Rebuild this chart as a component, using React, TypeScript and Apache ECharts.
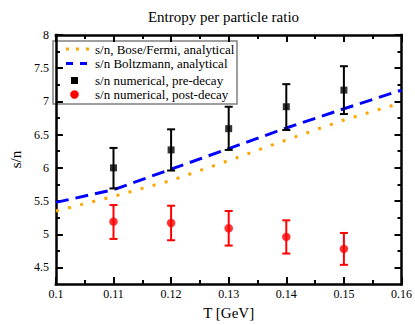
import React, { useEffect, useRef } from 'react';
import * as echarts from 'echarts';

// Analytical curves
const temps = [0.1, 0.11, 0.12, 0.13, 0.14, 0.15, 0.16];
const boseFermi = [5.35, 5.57, 5.81, 6.11, 6.42, 6.72, 6.98];
const boltzmann = [5.48, 5.67, 5.98, 6.29, 6.6, 6.89, 7.17];

// Numerical points
const numT = [0.11, 0.12, 0.13, 0.14, 0.15];
const preDecay = [6.0, 6.27, 6.59, 6.92, 7.17];
const preLow = [5.69, 5.96, 6.27, 6.57, 6.81];
const preHigh = [6.3, 6.58, 6.92, 7.26, 7.53];
const postDecay = [5.19, 5.17, 5.09, 4.96, 4.78];
const postLow = [4.93, 4.91, 4.83, 4.71, 4.54];
const postHigh = [5.44, 5.43, 5.35, 5.21, 5.02];

// Ticks
const yMajor = [4.5, 5, 5.5, 6, 6.5, 7, 7.5, 8];
const yMinor = [4.75, 5.25, 5.75, 6.25, 6.75, 7.25, 7.75];

const legendLabels = [
  's/n, Bose/Fermi, analytical',
  's/n Boltzmann, analytical',
  's/n numerical, pre-decay',
  's/n numerical, post-decay',
];

const FONT = 'Liberation Serif';

function errorBarSeries(color: string, lo: number[], hi: number[]) {
  return {
    type: 'custom',
    xAxisIndex: 0,
    yAxisIndex: 0,
    z: 3,
    data: numT.map((t, i) => [t, lo[i], hi[i]]),
    encode: { x: 0, y: [1, 2] },
    renderItem: (params: any, api: any) => {
      const x = api.value(0);
      const p1 = api.coord([x, api.value(1)]);
      const p2 = api.coord([x, api.value(2)]);
      const hw = 4;
      const style = { stroke: color, lineWidth: 2, fill: 'none' };
      return {
        type: 'group',
        children: [
          { type: 'line', shape: { x1: p1[0], y1: p1[1], x2: p2[0], y2: p2[1] }, style },
          { type: 'line', shape: { x1: p1[0] - hw, y1: p1[1], x2: p1[0] + hw, y2: p1[1] }, style },
          { type: 'line', shape: { x1: p2[0] - hw, y1: p2[1], x2: p2[0] + hw, y2: p2[1] }, style },
        ],
      };
    },
  };
}

export default function App() {
  const ref = useRef<HTMLDivElement>(null);
  useEffect(() => {
    if (!ref.current) return;
    const chart = echarts.init(ref.current, null, { renderer: 'svg' });
    const axisLineStyle = { color: '#000', width: 2.5, cap: 'square' };
    const majorTick = { show: true, inside: true, length: 7, lineStyle: { color: '#000', width: 2 } };
    const xCommon = {
      type: 'value',
      min: 0.1,
      max: 0.16,
      interval: 0.01,
      gridIndex: 0,
      splitLine: { show: false },
      axisLine: { show: true, onZero: false, lineStyle: axisLineStyle },
      axisTick: majorTick,
      minorTick: { show: true, splitNumber: 2, length: 4, lineStyle: { color: '#000', width: 2 } },
      minorSplitLine: { show: false },
    };
    const yCommon = {
      type: 'value',
      min: 4.25,
      max: 8,
      interval: 0.25,
      gridIndex: 0,
      splitLine: { show: false },
    };
    const ly = [49, 63.5, 80.5, 94.5];
    const option: any = {
      animation: false,
      textStyle: { fontFamily: FONT },
      title: {
        text: 'Entropy per particle ratio',
        left: 218.5,
        textAlign: 'center',
        top: 4,
        textStyle: { fontFamily: FONT, fontSize: 15, fontWeight: 'normal', color: '#000' },
      },
      grid: { left: 34, right: 12, top: 35, bottom: 31 },
      xAxis: [
        {
          ...xCommon,
          position: 'bottom',
          name: 'T [GeV]',
          nameLocation: 'middle',
          nameGap: 14,
          nameTextStyle: { fontFamily: FONT, fontSize: 15, color: '#000' },
          axisLabel: {
            show: true,
            margin: 4,
            fontFamily: FONT,
            fontSize: 12,
            color: '#000',
            showMinLabel: true,
            showMaxLabel: true,
            formatter: (v: number) => String(+v.toFixed(2)),
          },
        },
        {
          ...xCommon,
          position: 'top',
          axisLabel: { show: false },
        },
      ],
      yAxis: [
        {
          ...yCommon,
          position: 'left',
          name: 's/n',
          nameLocation: 'middle',
          nameGap: 18,
          nameRotate: 90,
          nameTextStyle: { fontFamily: FONT, fontSize: 15, color: '#000' },
          axisLine: { show: true, onZero: false, lineStyle: axisLineStyle },
          axisTick: { ...majorTick, customValues: yMajor },
          axisLabel: {
            show: true,
            margin: 7,
            fontFamily: FONT,
            fontSize: 12,
            color: '#000',
            customValues: yMajor,
          },
        },
        {
          ...yCommon,
          position: 'left',
          axisLine: { show: false },
          axisLabel: { show: false },
          axisTick: { show: true, inside: true, length: 4, lineStyle: { color: '#000', width: 2 }, customValues: yMinor },
        },
        {
          ...yCommon,
          position: 'right',
          axisLine: { show: true, onZero: false, lineStyle: axisLineStyle },
          axisLabel: { show: false },
          axisTick: { ...majorTick, customValues: yMajor },
        },
        {
          ...yCommon,
          position: 'right',
          axisLine: { show: false },
          axisLabel: { show: false },
          axisTick: { show: true, inside: true, length: 4, lineStyle: { color: '#000', width: 2 }, customValues: yMinor },
        },
      ],
      series: [
        {
          type: 'line',
          name: legendLabels[0],
          xAxisIndex: 0,
          yAxisIndex: 0,
          data: temps.map((t, i) => [t, boseFermi[i]]),
          showSymbol: false,
          symbol: 'none',
          z: 2,
          lineStyle: { color: '#FFA500', width: 3, type: [3, 9.5], cap: 'butt' },
        },
        {
          type: 'line',
          name: legendLabels[1],
          xAxisIndex: 0,
          yAxisIndex: 0,
          data: temps.map((t, i) => [t, boltzmann[i]]),
          showSymbol: false,
          symbol: 'none',
          z: 2,
          lineStyle: { color: '#0000FF', width: 3, type: [13, 7], cap: 'butt' },
        },
        errorBarSeries('#000', preLow, preHigh),
        errorBarSeries('#FF0000', postLow, postHigh),
        {
          type: 'scatter',
          name: legendLabels[2],
          xAxisIndex: 0,
          yAxisIndex: 0,
          z: 4,
          symbol: 'rect',
          symbolSize: 7,
          itemStyle: { color: '#000' },
          data: numT.map((t, i) => [t, preDecay[i]]),
        },
        {
          type: 'scatter',
          name: legendLabels[3],
          xAxisIndex: 0,
          yAxisIndex: 0,
          z: 4,
          symbol: 'circle',
          symbolSize: 8.5,
          itemStyle: { color: '#FF0000' },
          data: numT.map((t, i) => [t, postDecay[i]]),
        },
      ],
      graphic: [
        {
          type: 'group',
          z: 100,
          children: [
            {
              type: 'rect',
              shape: { x: 53, y: 41, width: 184, height: 63 },
              style: { fill: '#fff', stroke: '#808080', lineWidth: 1.5 },
            },
            {
              type: 'line',
              shape: { x1: 66, y1: ly[0], x2: 89, y2: ly[0] },
              style: { stroke: '#FFA500', lineWidth: 3, lineDash: [3, 7] },
            },
            {
              type: 'line',
              shape: { x1: 66, y1: ly[1], x2: 87, y2: ly[1] },
              style: { stroke: '#0000FF', lineWidth: 3, lineDash: [7, 7] },
            },
            {
              type: 'rect',
              shape: { x: 71, y: ly[2] - 3.5, width: 7, height: 7 },
              style: { fill: '#000' },
            },
            {
              type: 'circle',
              shape: { cx: 74.5, cy: ly[3], r: 4.25 },
              style: { fill: '#FF0000' },
            },
            ...legendLabels.map((txt, i) => ({
              type: 'text',
              x: 95,
              y: ly[i],
              style: {
                text: txt,
                fontFamily: FONT,
                fontSize: 13,
                fill: '#000',
                verticalAlign: 'middle',
                align: 'left',
              },
            })),
          ],
        },
      ],
    };
    chart.setOption(option);
    return () => chart.dispose();
  }, []);
  return <div ref={ref} style={{ width: 415, height: 325, position: 'absolute', left: 0, top: 0 }} />;
}
